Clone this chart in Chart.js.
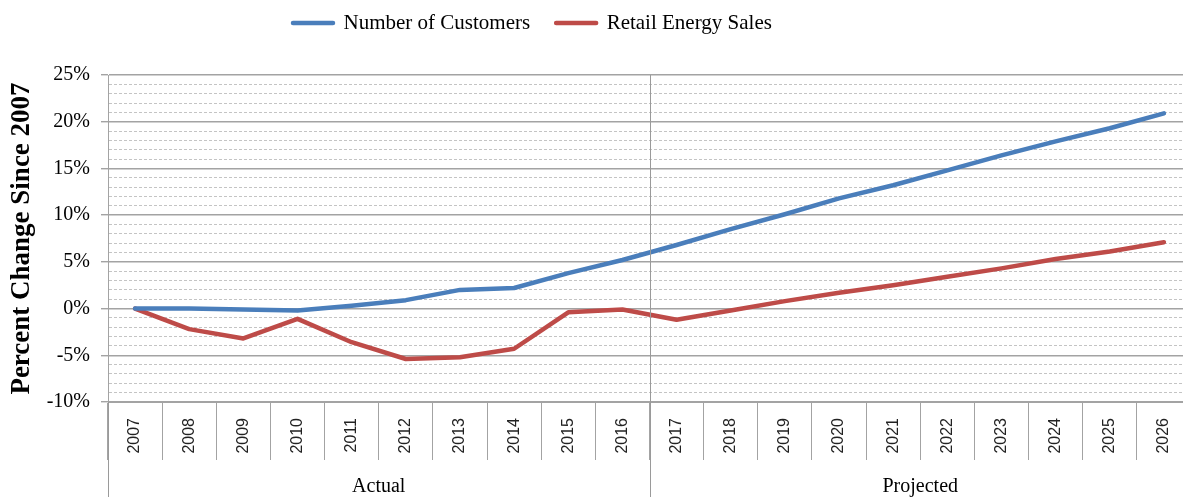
<!DOCTYPE html>
<html>
<head>
<meta charset="utf-8">
<script src="https://cdn.jsdelivr.net/npm/chart.js@4.4.1/dist/chart.umd.min.js"></script>
<style>
  html, body { margin: 0; padding: 0; background: #fff; overflow: hidden; }
  #wrap { width: 1200px; height: 497px; position: relative; }
</style>
</head>
<body>
<div id="wrap"><canvas id="chart"></canvas></div>
<script>
// categorias (anos) e grupos do eixo x
const years = ['2007', '2008', '2009', '2010', '2011', '2012', '2013', '2014', '2015', '2016',
               '2017', '2018', '2019', '2020', '2021', '2022', '2023', '2024', '2025', '2026'];
const groupLabels = ['Actual', 'Projected'];
const groupSizes = [10, 10];

// séries em % de variação desde 2007
const customers = [0, 0.0, -0.1, -0.2, 0.3, 0.9, 2.0, 2.2, 3.8, 5.2,
                   6.8, 8.5, 10.1, 11.8, 13.2, 14.8, 16.4, 17.9, 19.3, 20.9];
const energySales = [0, -2.2, -3.2, -1.1, -3.6, -5.4, -5.2, -4.3, -0.4, -0.1,
                     -1.2, -0.2, 0.8, 1.7, 2.5, 3.4, 4.3, 5.3, 6.1, 7.1];

const yMin = -10, yMax = 25, yMajor = 5;

const GRID_MAJOR = '#a3a3a3';
const GRID_MINOR = '#c4c4c4';

// desenha a faixa de grupos (Actual / Projected) abaixo dos anos
const groupRowPlugin = {
    id: 'groupRow',
    afterLayout(chart) {
        // legenda deslocada para a esquerda e para cima como no original
        const lg = chart.legend;
        const dx = 293 - (lg.left + lg.options.labels.padding);
        lg.left += dx; lg.right += dx;
        lg.top -= 31.5; lg.bottom -= 31.5;
    },
    afterDraw(chart) {
        const { ctx, chartArea: a, scales: { x } } = chart;
        const H = chart.height;
        const step = x.getPixelForValue(1) - x.getPixelForValue(0);
        ctx.save();
        ctx.strokeStyle = '#9a9a9a';
        ctx.lineWidth = 1;
        let idx = 0;
        const bounds = [x.getPixelForValue(0) - step / 2];
        groupSizes.forEach(n => { idx += n; bounds.push(x.getPixelForValue(idx - 1) + step / 2); });
        bounds.forEach((bx, i) => {
            const px = Math.round(bx) + 0.5;
            ctx.beginPath();
            // a divisória entre grupos atravessa a área do gráfico
            const top = (i > 0 && i < bounds.length - 1) ? a.top : a.bottom;
            ctx.moveTo(px, top);
            ctx.lineTo(px, H);
            ctx.stroke();
        });
        ctx.fillStyle = '#000';
        ctx.font = '20px "Liberation Serif"';
        ctx.textAlign = 'center';
        ctx.textBaseline = 'middle';
        groupLabels.forEach((g, i) => {
            ctx.fillText(g, (bounds[i] + bounds[i + 1]) / 2, 487);
        });
        ctx.restore();
    }
};

const ctx = document.getElementById('chart');
new Chart(ctx, {
    type: 'line',
    data: {
        labels: years,
        datasets: [
            {
                label: 'Number of Customers',
                data: customers,
                borderColor: '#4A7EBB',
                backgroundColor: '#4A7EBB',
                borderWidth: 4.5,
                borderCapStyle: 'round',
                borderJoinStyle: 'round',
                pointRadius: 0,
                tension: 0
            },
            {
                label: 'Retail Energy Sales',
                data: energySales,
                borderColor: '#BE4B48',
                backgroundColor: '#BE4B48',
                borderWidth: 4.5,
                borderCapStyle: 'round',
                borderJoinStyle: 'round',
                pointRadius: 0,
                tension: 0
            }
        ]
    },
    options: {
        responsive: true,
        maintainAspectRatio: false,
        animation: false,
        layout: { padding: { top: 18, right: 9, left: 0, bottom: 0 } },
        plugins: {
            tooltip: { enabled: false },
            legend: {
                position: 'top',
                align: 'start',
                labels: {
                    font: { family: 'Liberation Serif', size: 21 },
                    color: '#000',
                    boxWidth: 40,
                    boxHeight: 0,
                    padding: 26
                }
            }
        },
        scales: {
            x: {
                type: 'category',
                offset: true,
                grid: {
                    offset: true,
                    drawOnChartArea: false,
                    drawTicks: true,
                    tickLength: 58,
                    color: GRID_MAJOR,
                    tickColor: GRID_MAJOR,
                    lineWidth: 1
                },
                border: { display: true, color: GRID_MAJOR, width: 1 },
                ticks: {
                    autoSkip: false,
                    minRotation: 90,
                    maxRotation: 90,
                    padding: -42,
                    color: '#222',
                    font: { family: 'Liberation Sans', size: 16 }
                },
                afterFit: (scale) => { scale.height = 95; }
            },
            y: {
                min: yMin,
                max: yMax,
                grid: {
                    color: (c) => (c.tick && c.tick.value % yMajor === 0) ? GRID_MAJOR : GRID_MINOR,
                    lineWidth: (c) => (c.tick && c.tick.value % yMajor === 0) ? 1.4 : 1,
                    tickColor: (c) => (c.tick && c.tick.value % yMajor === 0) ? GRID_MAJOR : 'rgba(0,0,0,0)',
                    tickLength: 7
                },
                border: {
                    display: true,
                    color: GRID_MAJOR,
                    width: 1,
                    dash: (c) => (c.tick && c.tick.value % yMajor !== 0) ? [3, 2] : []
                },
                ticks: {
                    stepSize: 1,
                    autoSkip: false,
                    padding: 11,
                    color: '#000',
                    font: { family: 'Liberation Serif', size: 20 },
                    callback: (v) => (v % yMajor === 0) ? v + '%' : ''
                },
                title: {
                    display: true,
                    text: 'Percent Change Since 2007',
                    color: '#000',
                    font: { family: 'Liberation Serif', size: 27, weight: 'bold' },
                    padding: { top: 6, bottom: 0 }
                },
                afterFit: (scale) => { scale.width = 108; }
            }
        }
    },
    plugins: [groupRowPlugin]
});
</script>
</body>
</html>
